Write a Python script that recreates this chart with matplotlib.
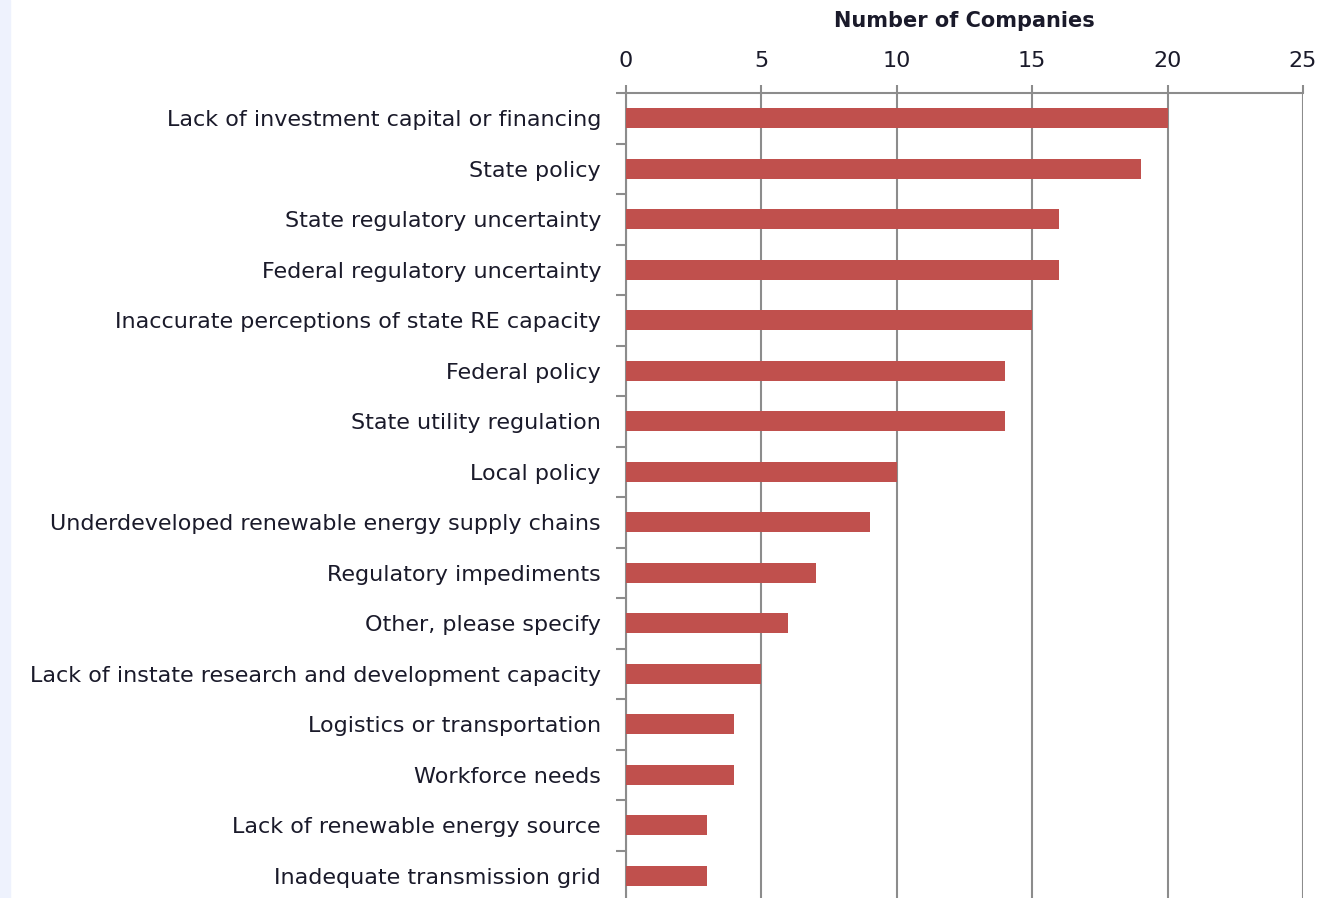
import matplotlib.pyplot as plt
import matplotlib.patches as mpatches

categories = [
    "Lack of investment capital or financing",
    "State policy",
    "State regulatory uncertainty",
    "Federal regulatory uncertainty",
    "Inaccurate perceptions of state RE capacity",
    "Federal policy",
    "State utility regulation",
    "Local policy",
    "Underdeveloped renewable energy supply chains",
    "Regulatory impediments",
    "Other, please specify",
    "Lack of instate research and development capacity",
    "Logistics or transportation",
    "Workforce needs",
    "Lack of renewable energy source",
    "Inadequate transmission grid",
]
companies = [20, 19, 16, 16, 15, 14, 14, 10, 9, 7, 6, 5, 4, 4, 3, 3]
xticks = [0, 5, 10, 15, 20, 25]

plt.rcParams['font.family'] = ['DejaVu Sans']

W, H = 1321, 898
fig = plt.figure(figsize=(W / 100, H / 100), dpi=100)
fig.patches.append(mpatches.Rectangle((0, 0), 10 / W, 1, transform=fig.transFigure,
                                      color='#eef2fd', zorder=0))

ax = fig.add_axes([626 / W, 1 - 901 / H, (1303 - 626) / W, (901 - 93) / H])

n = len(categories)
ypos = list(range(n))
ax.barh(ypos, companies, height=0.4, color='#c0504d', zorder=3)
ax.set_ylim(n - 0.5, -0.5)
ax.set_xlim(0, 25)

grid_c = '#8c8c8c'
text_c = '#1a1a2a'
ax.set_xticks(xticks)
ax.xaxis.tick_top()
ax.xaxis.set_label_position('top')
ax.set_xlabel("Number of Companies", fontsize=15, fontweight='bold', color=text_c, labelpad=17)
ax.tick_params(axis='x', length=6, width=1.5, color=grid_c, labelsize=16, labelcolor=text_c, pad=10)
ax.grid(axis='x', color=grid_c, linewidth=1.5, zorder=0)

# category labels, ticks between categories
ax.set_yticks(ypos)
ax.set_yticklabels(categories, fontsize=16, color=text_c)
ax.tick_params(axis='y', which='major', length=0, pad=18)
ax.set_yticks([i + 0.5 for i in range(-1, n)], minor=True)
ax.tick_params(axis='y', which='minor', length=7, width=1.5, color=grid_c)

for side in ['right', 'bottom']:
    ax.spines[side].set_visible(False)
for side in ['top', 'left']:
    ax.spines[side].set_color(grid_c)
    ax.spines[side].set_linewidth(1.5)

fig.savefig('out.png', dpi=100)
